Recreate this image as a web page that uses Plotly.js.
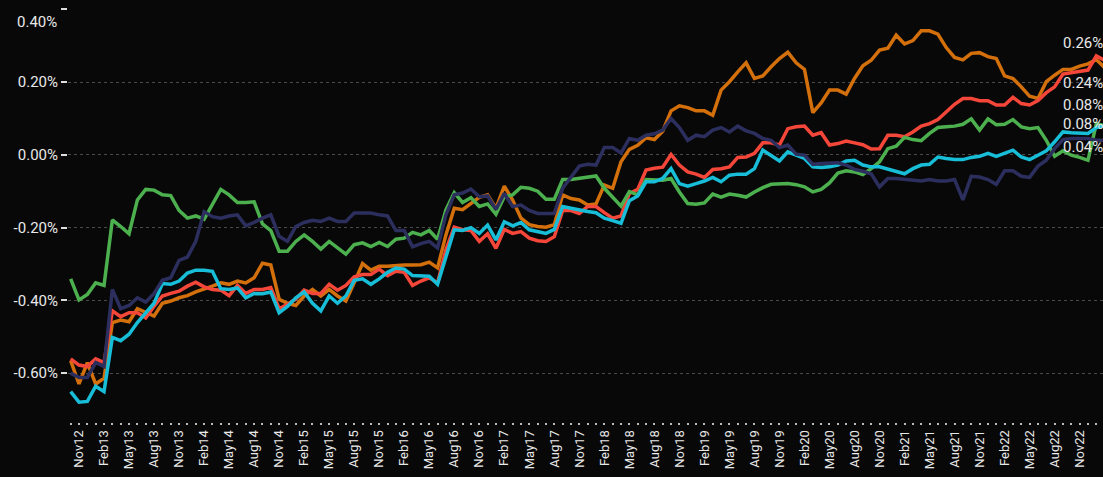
<!DOCTYPE html>
<html>
<head>
<meta charset="utf-8">
<script src="https://cdn.plot.ly/plotly-3.0.1.min.js"></script>
<style>html,body{margin:0;padding:0;background:#080808;}#chart{width:1103px;height:477px;}</style>
</head>
<body>
<div id="chart"></div>
<script>
// Monthly categories Oct12 .. Feb23
const monthNames = ['Jan','Feb','Mar','Apr','May','Jun','Jul','Aug','Sep','Oct','Nov','Dec'];
const months = [];
for (let i = 0; i < 125; i++) {
  const k = 9 + i;
  months.push(monthNames[k % 12] + String(12 + Math.floor(k / 12)));
}
// Tick labels shown every quarter starting Nov12
const tickLabels = months.map((m, i) => ((i - 1) % 3 === 0 ? m : ''));

const orange = [
 -0.566,-0.630,-0.571,-0.630,-0.614,-0.461,-0.454,-0.459,-0.423,-0.434,
 -0.443,-0.408,-0.402,-0.393,-0.387,-0.377,-0.370,-0.361,-0.352,-0.356,
 -0.347,-0.352,-0.338,-0.298,-0.303,-0.397,-0.408,-0.414,-0.388,-0.370,
 -0.388,-0.370,-0.388,-0.402,-0.352,-0.299,-0.317,-0.306,-0.306,-0.304,
 -0.303,-0.303,-0.302,-0.295,-0.311,-0.220,-0.147,-0.151,-0.133,-0.117,
 -0.110,-0.147,-0.086,-0.124,-0.174,-0.192,-0.197,-0.199,-0.192,-0.110,
 -0.120,-0.124,-0.138,-0.135,-0.083,-0.092,-0.019,0.015,0.026,0.047,
 0.042,0.065,0.121,0.135,0.130,0.121,0.121,0.109,0.178,0.201,
 0.228,0.253,0.210,0.217,0.242,0.265,0.282,0.253,0.235,0.116,
 0.143,0.178,0.178,0.167,0.210,0.245,0.260,0.288,0.293,0.329,
 0.305,0.314,0.341,0.341,0.332,0.295,0.268,0.261,0.279,0.281,
 0.270,0.265,0.217,0.210,0.187,0.161,0.155,0.201,0.219,0.235,
 0.235,0.244,0.250,0.262,0.240
];
const red = [
 -0.561,-0.578,-0.582,-0.561,-0.571,-0.429,-0.445,-0.434,-0.434,-0.448,
 -0.416,-0.388,-0.381,-0.375,-0.361,-0.350,-0.363,-0.370,-0.372,-0.387,
 -0.359,-0.381,-0.370,-0.370,-0.365,-0.423,-0.411,-0.397,-0.372,-0.381,
 -0.381,-0.356,-0.372,-0.359,-0.335,-0.329,-0.329,-0.314,-0.332,-0.320,
 -0.323,-0.359,-0.347,-0.338,-0.352,-0.261,-0.199,-0.206,-0.208,-0.238,
 -0.217,-0.257,-0.205,-0.216,-0.211,-0.229,-0.236,-0.238,-0.225,-0.153,
 -0.153,-0.161,-0.142,-0.142,-0.159,-0.174,-0.168,-0.106,-0.095,-0.042,
 -0.037,-0.034,0.001,-0.028,-0.047,-0.053,-0.062,-0.040,-0.038,-0.033,
 -0.007,-0.006,0.004,0.033,0.033,0.027,0.072,0.077,0.079,0.054,
 0.061,0.027,0.031,0.038,0.033,0.028,0.016,0.017,0.054,0.054,
 0.050,0.063,0.079,0.086,0.097,0.118,0.139,0.155,0.155,0.149,
 0.149,0.137,0.137,0.158,0.141,0.137,0.149,0.171,0.187,0.222,
 0.226,0.228,0.233,0.272,0.260
];
const green = [
 -0.341,-0.399,-0.384,-0.352,-0.359,-0.179,-0.197,-0.217,-0.124,-0.095,
 -0.097,-0.110,-0.112,-0.153,-0.174,-0.168,-0.177,-0.138,-0.095,-0.110,
 -0.131,-0.131,-0.129,-0.190,-0.208,-0.265,-0.265,-0.238,-0.220,-0.238,
 -0.259,-0.238,-0.256,-0.273,-0.247,-0.242,-0.252,-0.241,-0.252,-0.232,
 -0.229,-0.213,-0.220,-0.208,-0.232,-0.151,-0.104,-0.131,-0.118,-0.142,
 -0.135,-0.163,-0.115,-0.110,-0.089,-0.092,-0.100,-0.122,-0.122,-0.068,
 -0.068,-0.065,-0.062,-0.058,-0.092,-0.115,-0.141,-0.101,-0.110,-0.068,
 -0.069,-0.070,-0.065,-0.102,-0.134,-0.136,-0.132,-0.108,-0.116,-0.108,
 -0.111,-0.116,-0.102,-0.090,-0.081,-0.079,-0.079,-0.082,-0.088,-0.102,
 -0.095,-0.077,-0.050,-0.044,-0.047,-0.054,-0.038,-0.019,0.017,0.024,
 0.048,0.042,0.039,0.059,0.075,0.077,0.079,0.084,0.099,0.068,
 0.099,0.083,0.084,0.097,0.077,0.072,0.075,0.040,-0.004,0.011,
 -0.001,-0.007,-0.015,0.086,0.080
];
const cyan = [
 -0.651,-0.680,-0.678,-0.636,-0.651,-0.502,-0.511,-0.493,-0.461,-0.434,
 -0.408,-0.354,-0.356,-0.347,-0.325,-0.317,-0.317,-0.320,-0.368,-0.370,
 -0.366,-0.393,-0.381,-0.382,-0.377,-0.434,-0.417,-0.393,-0.377,-0.408,
 -0.429,-0.388,-0.408,-0.388,-0.345,-0.341,-0.356,-0.341,-0.323,-0.311,
 -0.314,-0.332,-0.332,-0.334,-0.356,-0.277,-0.206,-0.208,-0.200,-0.216,
 -0.193,-0.234,-0.184,-0.195,-0.186,-0.206,-0.211,-0.216,-0.205,-0.142,
 -0.147,-0.152,-0.156,-0.159,-0.174,-0.181,-0.188,-0.126,-0.113,-0.074,
 -0.074,-0.065,-0.038,-0.079,-0.086,-0.079,-0.072,-0.062,-0.074,-0.056,
 -0.053,-0.053,-0.038,0.013,-0.001,-0.017,0.008,-0.001,-0.010,-0.033,
 -0.035,-0.033,-0.028,-0.017,-0.015,-0.028,-0.033,-0.033,-0.040,-0.047,
 -0.052,-0.038,-0.028,-0.026,-0.006,-0.010,-0.013,-0.013,-0.007,-0.004,
 0.004,-0.004,0.004,0.013,-0.006,-0.013,-0.001,0.011,0.036,0.063,
 0.061,0.059,0.059,0.075,0.080
];
const navy = [
 -0.600,-0.612,-0.612,-0.571,-0.582,-0.370,-0.423,-0.414,-0.393,-0.405,
 -0.381,-0.345,-0.338,-0.290,-0.281,-0.238,-0.156,-0.170,-0.174,-0.168,
 -0.165,-0.195,-0.186,-0.174,-0.165,-0.224,-0.238,-0.197,-0.186,-0.180,
 -0.183,-0.174,-0.183,-0.183,-0.160,-0.159,-0.160,-0.165,-0.168,-0.208,
 -0.208,-0.253,-0.244,-0.238,-0.256,-0.165,-0.110,-0.105,-0.094,-0.115,
 -0.113,-0.150,-0.106,-0.142,-0.138,-0.153,-0.161,-0.161,-0.161,-0.092,
 -0.060,-0.031,-0.026,-0.028,0.020,0.020,0.005,0.045,0.040,0.054,
 0.058,0.068,0.100,0.075,0.040,0.054,0.050,0.068,0.075,0.063,
 0.079,0.066,0.059,0.045,0.040,0.020,0.027,0.002,-0.001,-0.026,
 -0.024,-0.022,-0.022,-0.028,-0.040,-0.045,-0.052,-0.088,-0.065,-0.065,
 -0.068,-0.070,-0.072,-0.068,-0.072,-0.072,-0.068,-0.124,-0.059,-0.061,
 -0.068,-0.081,-0.044,-0.044,-0.059,-0.062,-0.031,-0.015,0.017,0.042,
 0.045,0.045,0.045,0.040,0.040
];
const yTickVals = [-0.6, -0.4, -0.2, 0, 0.2, 0.4];
const yTickText = ['-0.60%', '-0.40%', '-0.20%', '0.00%', '0.20%', ''];

const series = [
  {y: orange, color: '#D4700C', shift: -15},
  {y: red, color: '#F5463A', shift: 17},
  {y: green, color: '#4DB04F', shift: 21},
  {y: cyan, color: '#18BDD7', shift: 2},
  {y: navy, color: '#2C2F5E', shift: -7}
];

const textColor = '#e8e8e8';
const traces = series.map(s => ({
  type: 'scatter', mode: 'lines', x: months, y: s.y,
  line: {color: s.color, width: 3.5}, hoverinfo: 'skip', showlegend: false
}));

const labelX = months[123];
const annotations = series.map(s => {
  const last = s.y[s.y.length - 1];
  return {
    xref: 'x', yref: 'y', x: labelX, y: last,
    text: last.toFixed(2) + '%', showarrow: false,
    xanchor: 'left', yanchor: 'middle', xshift: -34, yshift: s.shift,
    borderpad: 0,
    font: {family: 'Roboto, sans-serif', size: 15, color: textColor}
  };
});
annotations.push({
  xref: 'paper', yref: 'y', x: 0, y: 0.4, text: '0.40%', showarrow: false,
  xanchor: 'right', yanchor: 'middle', xshift: -9, yshift: -13,
  font: {family: 'Roboto, sans-serif', size: 15, color: textColor}
});

const layout = {
  width: 1103, height: 477,
  paper_bgcolor: '#080808', plot_bgcolor: '#080808',
  margin: {l: 68, r: 0, t: 9, b: 55, pad: 0},
  font: {family: 'Roboto, sans-serif', color: textColor},
  showlegend: false,
  xaxis: {
    type: 'category', range: [-0.32, 123.8],
    tickmode: 'array', tickvals: months, ticktext: tickLabels,
    tickangle: -90, ticks: 'outside', ticklen: 2, tickwidth: 2, tickcolor: '#bbbbbb',
    showgrid: false, zeroline: false, showline: false,
    tickfont: {family: 'Roboto, sans-serif', size: 13, color: textColor}
  },
  yaxis: {
    range: [-0.7345, 0.401],
    tickmode: 'array', tickvals: yTickVals, ticktext: yTickText,
    ticks: 'outside', ticklen: 6, tickwidth: 2, tickcolor: '#dddddd',
    showgrid: true, gridcolor: '#4a4a4a', gridwidth: 1, griddash: 'dot',
    zeroline: false, showline: false,
    tickfont: {family: 'Roboto, sans-serif', size: 15, color: textColor}
  },
  annotations: annotations
};

Plotly.newPlot('chart', traces, layout, {displayModeBar: false, staticPlot: true});
</script>
</body>
</html>
